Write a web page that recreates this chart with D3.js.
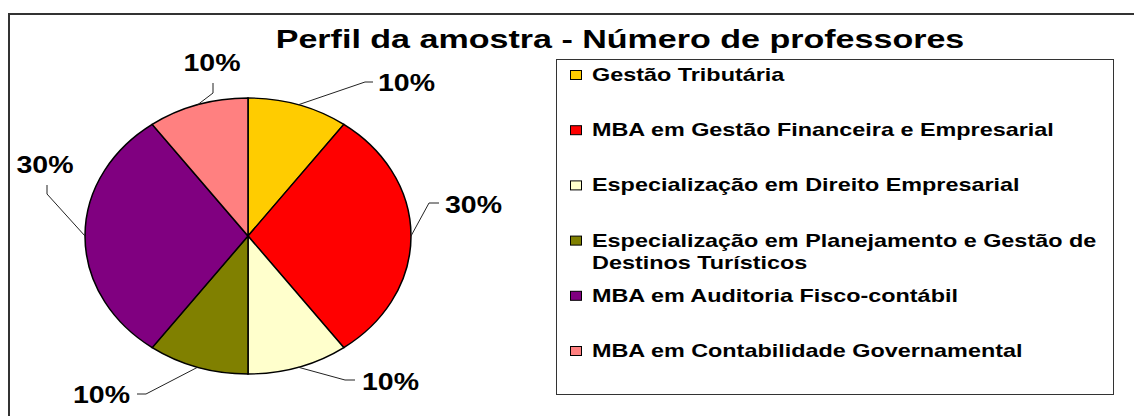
<!DOCTYPE html>
<html>
<head>
<meta charset="utf-8">
<script src="https://cdn.jsdelivr.net/npm/d3@7"></script>
<style>
  body { margin: 0; background: #fff; }
  text { font-family: "Liberation Sans", Arial, sans-serif; font-weight: bold; fill: #000; }
</style>
</head>
<body>
<script>
'use strict';

// chart data
const cursos = [
  "Gestão Tributária",
  "MBA em Gestão Financeira e Empresarial",
  "Especialização em Direito Empresarial",
  "Especialização em Planejamento e Gestão de|Destinos Turísticos",
  "MBA em Auditoria Fisco-contábil",
  "MBA em Contabilidade Governamental"
];
const professores = [1, 3, 1, 1, 3, 1];
const cores = ["#ffcc00", "#ff0000", "#ffffcc", "#808000", "#800080", "#ff8080"];
const titulo = "Perfil da amostra - Número de professores";

// label layout: elbow, end of leader, text anchor point
const labelLayout = [
  {elbow: [365, 82],  end: [373, 82],  tx: 378, ty: 91,  anchor: "start"},
  {elbow: [429, 203], end: [439, 203], tx: 445, ty: 213, anchor: "start"},
  {elbow: [345, 380], end: [355, 380], tx: 362, ty: 390, anchor: "start"},
  {elbow: [146, 394], end: [137, 394], tx: 130, ty: 403, anchor: "end"},
  {elbow: [47, 194],  end: [47, 185],  tx: 45,  ty: 173, anchor: "middle"},
  {elbow: [213, 93],  end: [213, 83],  tx: 212, ty: 71,  anchor: "middle"}
];

const W = 1134, H = 416;
const cx = 248, cy = 236, rx = 163, ry = 138;

const svg = d3.select("body").append("svg")
  .attr("width", W)
  .attr("height", H);

// outer frame (runs past the right and bottom edges)
svg.append("rect")
  .attr("x", 9).attr("y", 14)
  .attr("width", W + 20).attr("height", H + 20)
  .style("fill", "none")
  .style("stroke", "#333")
  .style("stroke-width", 2);

// title
svg.append("text")
  .attr("transform", "translate(620,48) scale(1.31,1)")
  .attr("text-anchor", "middle")
  .style("font-size", "26px")
  .text(titulo);

// pie
const total = d3.sum(professores);
const pie = d3.pie().sort(null).value(d => d)(professores);
const arc = d3.arc().innerRadius(0).outerRadius(ry);

svg.append("g")
  .attr("transform", "translate(" + cx + "," + cy + ") scale(" + (rx / ry) + ",1)")
  .selectAll("path")
  .data(pie)
  .enter().append("path")
    .attr("d", arc)
    .style("fill", (d, i) => cores[i])
    .style("stroke", "#000")
    .style("stroke-width", 1.3);

// leader lines + percent labels
const fmt = d3.format(".0%");
const labels = svg.append("g");
pie.forEach((d, i) => {
  const a = (d.startAngle + d.endAngle) / 2;
  const p0 = [cx + rx * Math.sin(a), cy - ry * Math.cos(a)];
  const l = labelLayout[i];
  labels.append("polyline")
    .attr("points", [p0, l.elbow, l.end].map(p => p.join(",")).join(" "))
    .style("fill", "none")
    .style("stroke", "#222")
    .style("stroke-width", 1);
  labels.append("text")
    .attr("transform", "translate(" + l.tx + "," + l.ty + ") scale(1.24,1)")
    .attr("text-anchor", l.anchor)
    .style("font-size", "23px")
    .text(fmt(d.value / total));
});

// legend
const legend = svg.append("g");
legend.append("rect")
  .attr("x", 556.5).attr("y", 59.5)
  .attr("width", 557).attr("height", 335)
  .style("fill", "#fff")
  .style("stroke", "#333")
  .style("stroke-width", 1);

const rowY = d3.scaleLinear().domain([0, cursos.length - 1]).range([81, 357]);

cursos.forEach((c, i) => {
  const y = rowY(i);
  legend.append("rect")
    .attr("x", 570.5).attr("y", y - 10.5)
    .attr("width", 11).attr("height", 9)
    .style("fill", cores[i])
    .style("stroke", "#000")
    .style("stroke-width", 1);
  c.split("|").forEach((line, j) => {
    legend.append("text")
      .attr("transform", "translate(592," + (y + j * 22) + ") scale(1.3,1)")
      .style("font-size", "18px")
      .text(line);
  });
});
</script>
</body>
</html>
